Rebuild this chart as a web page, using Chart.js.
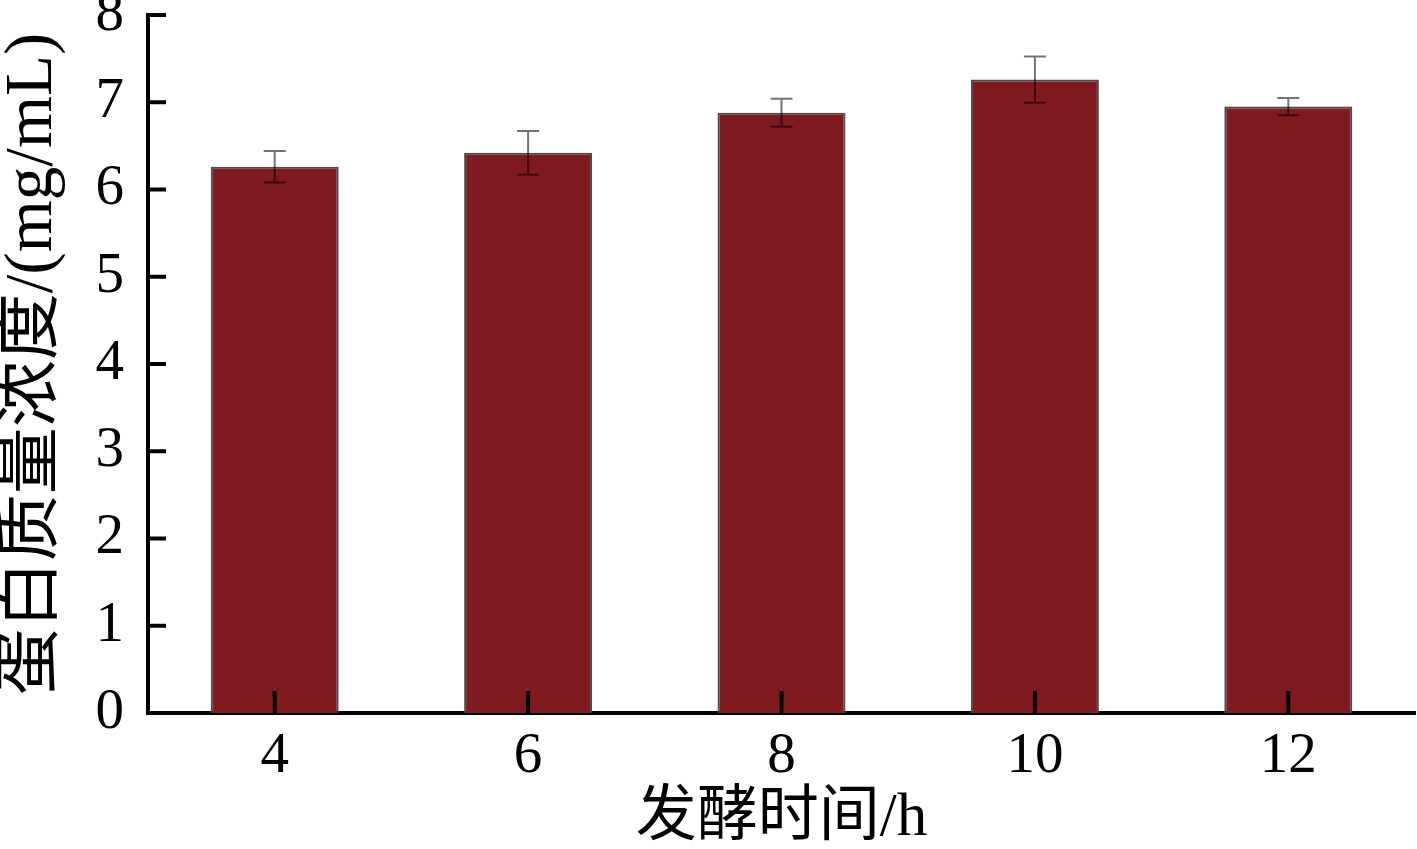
<!DOCTYPE html>
<html>
<head>
<meta charset="utf-8">
<script src="https://cdn.jsdelivr.net/npm/chart.js@4/dist/chart.umd.min.js"></script>
<style>
html,body{margin:0;padding:0;background:#fff;}
#wrap{width:1417px;height:849px;position:relative;}
</style>
</head>
<body>
<div id="wrap"><canvas id="c" width="1417" height="849"></canvas></div>
<script>
const categories = ['4', '6', '8', '10', '12'];
const proteinValues = [6.26, 6.42, 6.88, 7.26, 6.95];
const errorValues = [0.18, 0.25, 0.16, 0.265, 0.1];
const yTicks = [0, 1, 2, 3, 4, 5, 6, 7, 8];
const xTitle = '发酵时间/h';
const yTitle = '蛋白质量浓度/(mg/mL)';

const fontFamily = "'Liberation Serif', 'Noto Sans CJK SC', serif";

const errorBarPlugin = {
  id: 'errorBars',
  afterDatasetsDraw(chart) {
    const ctx = chart.ctx;
    const xs = chart.scales.x, ys = chart.scales.y;
    ctx.save();
    ctx.strokeStyle = 'rgba(0,0,0,0.55)';
    ctx.lineWidth = 2;
    proteinValues.forEach((v, i) => {
      const x = xs.getPixelForValue(i);
      const yt = ys.getPixelForValue(v + errorValues[i]);
      const yb = ys.getPixelForValue(v - errorValues[i]);
      ctx.beginPath();
      ctx.moveTo(x, yt); ctx.lineTo(x, yb);
      ctx.moveTo(x - 11, yt); ctx.lineTo(x + 11, yt);
      ctx.moveTo(x - 11, yb); ctx.lineTo(x + 11, yb);
      ctx.stroke();
    });
    ctx.restore();
  }
};

const inwardTicksPlugin = {
  id: 'inwardTicks',
  afterDraw(chart) {
    const ctx = chart.ctx;
    const xs = chart.scales.x, ys = chart.scales.y;
    const area = chart.chartArea;
    ctx.save();
    ctx.strokeStyle = '#000';
    ctx.lineWidth = 4;
    yTicks.forEach(t => {
      const y = ys.getPixelForValue(t);
      ctx.beginPath();
      ctx.moveTo(area.left, y); ctx.lineTo(area.left + 18, y);
      ctx.stroke();
    });
    categories.forEach((c, i) => {
      const x = xs.getPixelForValue(i);
      ctx.beginPath();
      ctx.moveTo(x, area.bottom); ctx.lineTo(x, area.bottom - 22);
      ctx.stroke();
    });
    ctx.restore();
  }
};

new Chart(document.getElementById('c'), {
  type: 'bar',
  data: {
    labels: categories,
    datasets: [{
      data: proteinValues,
      backgroundColor: '#7f1a1f',
      borderColor: '#4a4a4a',
      borderWidth: 2,
      barPercentage: 0.505,
      categoryPercentage: 1.0
    }]
  },
  options: {
    responsive: false,
    animation: false,
    layout: { padding: { top: 15, right: 2, left: 0, bottom: 0 } },
    plugins: { legend: { display: false }, tooltip: { enabled: false } },
    scales: {
      x: {
        grid: { display: false, drawTicks: false },
        border: { display: true, color: '#000', width: 4 },
        ticks: { color: '#000', font: { family: fontFamily, size: 57 }, padding: 10, maxRotation: 0 },
        title: { display: true, text: xTitle, color: '#000', font: { family: fontFamily, size: 61, lineHeight: 1 }, padding: { top: 0, bottom: 0 } },
        afterFit(s) { s.height = 136; s.paddingLeft = 0; s.paddingRight = 0; }
      },
      y: {
        min: 0, max: 8,
        grid: { display: false, drawTicks: false },
        border: { display: true, color: '#000', width: 4 },
        ticks: { color: '#000', stepSize: 1, font: { family: fontFamily, size: 57 }, padding: 24 },
        title: { display: true, text: yTitle, color: '#000', font: { family: fontFamily, size: 67, lineHeight: 1 }, padding: { top: 0, bottom: 0 } },
        afterFit(s) { s.width = 148; s.paddingTop = 0; s.paddingBottom = 0; }
      }
    }
  },
  plugins: [errorBarPlugin, inwardTicksPlugin]
});
</script>
</body>
</html>
